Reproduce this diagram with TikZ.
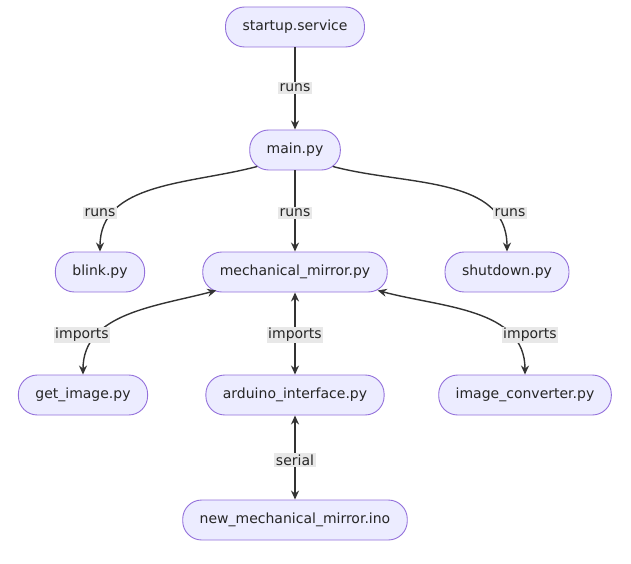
\documentclass[tikz,border=0pt]{standalone}
\usepackage{fontspec}
\setmainfont{DejaVu Sans}
\usetikzlibrary{arrows.meta,positioning}
\definecolor{boxfill}{HTML}{ECECFF}
\definecolor{boxline}{HTML}{9370DB}
\definecolor{lblfill}{HTML}{E8E8E8}
\definecolor{edgecol}{HTML}{333333}
\tikzset{
  box/.style={draw=boxline,fill=boxfill,rounded corners=19pt,line width=0.9pt,
              minimum height=40pt,inner xsep=17pt,font=\fontsize{14}{16}\selectfont,text=black!85},
  lbl/.style={fill=lblfill,inner sep=1.5pt,font=\fontsize{14}{16}\selectfont,text=black!85},
  link/.style={draw=edgecol,line width=1.4pt,-{Stealth[length=9pt,width=8pt]}},
  both/.style={link,{Stealth[length=9pt,width=8pt]}-{Stealth[length=9pt,width=8pt]}}
}
\begin{document}
\begin{tikzpicture}[x=1pt,y=1pt]
  \useasboundingbox (0,0) rectangle (631,-564);
  \node[box] (startup)  at (295,-27)  {startup.service};
  \node[box] (main)     at (295,-150) {main.py};
  \node[box] (blink)    at (100,-272) {blink.py};
  \node[box] (mirror)   at (295,-272) {mechanical\_mirror.py};
  \node[box] (shutdown) at (507,-272) {shutdown.py};
  \node[box] (getimg)   at (83,-395)  {get\_image.py};
  \node[box] (arduino)  at (295,-395) {arduino\_interface.py};
  \node[box] (convert)  at (525,-395) {image\_converter.py};
  \node[box] (ino)      at (295,-520) {new\_mechanical\_mirror.ino};

  \draw[link] (main.south west) ++(8,4) coordinate (mw) to[out=195,in=90] (blink.north);
  \draw[link] (startup) -- (main);
  \draw[link] (main) -- (mirror);
  \draw[link] (main.south east) ++(-8,4) coordinate (me) to[out=-15,in=90] (shutdown.north);
  \draw[both] (mirror.south west) ++(14,2) coordinate (rw) to[out=195,in=90] (getimg.north);
  \draw[both] (mirror) -- (arduino);
  \draw[both] (mirror.south east) ++(-10,2) coordinate (re) to[out=-15,in=90] (convert.north);
  \draw[both] (arduino) -- (ino);

  \node[lbl] (l1) at (295,-88)  {runs};
  \node[lbl] (l2) at (100,-213) {runs};
  \node[lbl] (l3) at (295,-213) {runs};
  \node[lbl] (l4) at (510,-213) {runs};
  \node[lbl] (l5) at (82,-335)  {imports};
  \node[lbl] (l6) at (295,-335) {imports};
  \node[lbl] (l7) at (530,-335) {imports};
  \node[lbl] (l8) at (295,-460) {serial};
\end{tikzpicture}
\end{document}
